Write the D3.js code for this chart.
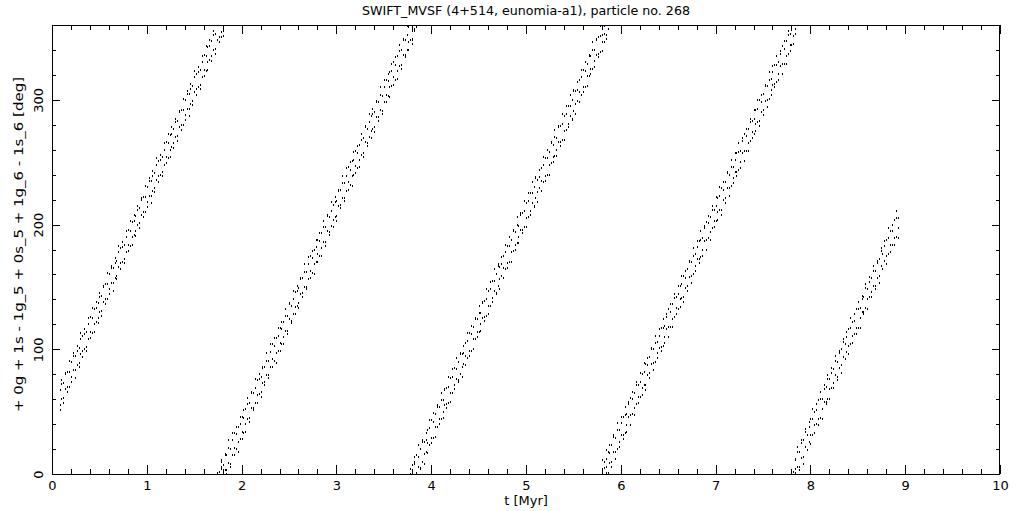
<!DOCTYPE html>
<html><head><meta charset="utf-8">
<script src="https://cdn.jsdelivr.net/npm/d3@7"></script>
<style>
body{margin:0;background:#fff}
svg{display:block}
text{font-family:"DejaVu Sans",sans-serif;fill:#000}
</style>
</head><body><svg id="c" width="1021" height="511"></svg>
<script>
// ---------- text ----------
const titleText = "SWIFT_MVSF (4+514, eunomia-a1), particle no. 268";
const xLabelText = "t [Myr]";
const yLabelText = "+ 0g + 1s - 1g_5 + 0s_5 + 1g_6 - 1s_6 [deg]";
// ---------- ticks ----------
const xMajorTicks = [0,1,2,3,4,5,6,7,8,9,10];
const yMajorTicks = [0,100,200,300];
const xMinorStep = 0.2;
const yMinorStep = 20;
const sampleStep = 0.02;                          // Myr between samples
const bandStart = [0.08, 1.78, 3.80, 5.80, 7.84]; // time of first sample of each circulation band
const band1Lo = [55,60,61,68,70,70,78,83,83,87,89,96,99,100,102,108,114,113,120,122,125,130,131,138,140,140,148,153,153,157,159,166,169,170,172,178,184,183,190,192,195,200,201,208,210,210,218,223,223,227,229,236,239,240,242,248,254,253,260,262,265,270,271,278,280,280,288,293,293,297,299,306,309,310,312,318,324,323,330,332,335,340,341,348,350,350];
const band1Hi = [67,72,73,80,82,82,90,95,95,99,101,108,111,112,114,120,126,125,132,133,137,142,143,150,152,152,160,165,165,169,171,178,181,182,184,190,196,195,202,203,207,212,213,220,222,222,230,235,235,239,241,248,251,252,254,260,266,265,272,273,277,282,283,290,292,292,300,305,305,309,311,318,321,322,324,330,336,335,342,343,347,352,353,0,2,4];
const band1Out = [51,75,57,81,66,91,74,97,77,103,86,113,94,116,99,125,109,133,114,138,121,145,127,151,136,161,144,167,147,173,156,183,164,186,169,195,179,203,184,208,191,215,197,221,206,231,214,237,217,243,226,253,234,256,239,265,249,273,254,278,261,285,267,291,276,301,284,307,287,313,296,323,304,326,309,335,319,343,324,348,331,355,337,1,346,11];
const band2Lo = [354,355,3,3,9,8,15,21,20,26,28,34,33,40,44,45,53,53,57,63,64,66,73,74,79,79,86,92,91,97,99,105,104,110,115,115,124,123,128,134,135,137,144,145,150,150,156,163,161,168,170,176,175,181,186,186,195,194,199,204,206,207,215,216,221,221,227,234,232,239,240,247,245,252,256,257,266,265,270,275,277,278,286,286,292,291,298,304,303,310,311,318,316,323,327,328,336,336,340,346,348,349,357];
const band2Hi = [6,7,15,15,21,20,27,33,32,38,40,46,45,52,56,57,65,65,69,75,76,78,85,86,91,91,98,104,103,109,111,117,116,122,127,127,136,135,140,146,147,149,156,157,162,162,168,175,173,180,182,188,187,193,198,198,207,206,211,216,218,219,227,228,233,233,239,246,244,251,252,259,257,264,268,269,278,277,282,287,289,290,298,298,304,303,310,316,315,322,323,330,328,335,339,340,348,348,352,358,0,1,9];
const band2Out = [10,351,16,0,27,6,33,15,38,18,46,28,51,34,61,42,66,51,76,57,80,62,86,71,97,77,104,86,109,89,117,99,122,104,132,112,137,121,147,128,151,133,157,142,168,148,174,157,179,160,188,170,193,175,203,183,208,192,218,198,222,203,228,213,239,219,245,228,250,231,258,241,263,246,273,254,279,263,289,269,293,274,299,283,310,289,316,298,321,302,329,312,334,317,344,325,349,334,359,340,4,345,10];
const band3Lo = [355,355,1,6,5,10,16,18,25,23,29,29,38,38,44,44,50,55,56,57,65,65,71,76,75,80,86,88,95,93,99,99,108,108,114,114,120,125,126,127,135,135,141,147,145,151,156,159,165,164,169,170,178,179,184,185,190,196,196,198,205,206,211,217,215,221,226,229,235,234,239,240,248,249,254,255,260,266,266,268,275,276,281,287,285,291,297,299,306,304,310,310,319,319,325,325,331,336,337,338,346,346,352];
const band3Hi = [7,8,15,14,20,26,26,27,35,37,43,42,48,54,54,59,59,67,69,70,77,78,85,84,90,96,96,97,105,107,113,112,118,124,124,129,129,137,139,140,147,148,155,155,160,167,166,168,175,178,183,183,188,195,194,200,199,208,209,211,217,219,225,225,230,237,236,238,245,248,253,253,258,265,264,270,269,278,279,281,287,289,295,295,300,307,307,308,316,318,324,323,329,335,335,340,340,348,350,351,358,359,6];
const band3Out = [348,14,358,23,4,27,8,33,17,43,25,49,30,55,40,65,45,68,53,78,58,84,68,93,74,97,78,103,87,113,95,119,100,125,110,135,115,138,123,148,128,154,138,164,144,168,148,174,157,184,165,190,170,196,180,206,185,209,193,219,198,225,208,234,214,238,218,244,227,254,235,260,240,266,250,276,255,279,263,289,268,295,278,304,284,308,289,314,298,324,306,330,311,336,321,346,326,349,334,359,339,5,349];
const band4Lo = [352,359,1,1,9,10,18,18,20,26,31,31,33,39,46,47,48,53,56,62,62,69,71,71,79,81,88,89,90,97,101,102,103,110,116,118,118,124,126,133,132,140,141,142,149,151,158,159,160,167,172,172,174,180,187,188,189,194,197,203,203,210,212,212,220,221,229,229,231,237,242,242,244,250,257,259,259,265,267,274,273,281,282,283,290,292,299,300,301,308,312,313,314,321,327,329,329,335,337,344,344,351,353];
const band4Hi = [4,10,12,18,17,23,30,29,35,35,41,46,47,48,56,61,60,65,71,71,74,80,82,88,87,94,100,100,105,106,111,117,117,119,126,132,130,136,141,142,144,151,152,159,157,164,170,170,175,176,182,187,188,189,197,202,201,206,212,212,215,221,223,229,228,234,241,240,246,246,252,257,258,259,267,273,271,277,282,283,285,292,293,300,298,305,311,311,316,317,322,328,328,330,337,343,341,347,352,353,356,2,4];
const band4Out = [11,353,19,357,23,6,31,12,41,22,46,28,54,34,58,39,66,47,74,57,81,63,89,67,93,77,101,83,111,93,116,99,124,105,128,110,136,118,144,128,151,134,159,138,163,147,171,153,181,163,187,169,195,175,199,180,207,188,215,198,222,204,230,208,234,217,242,223,252,233,257,239,265,245,269,251,277,259,285,269,292,275,300,279,304,288,312,294,322,304,327,310,335,316,339,321,347,329,355,339,3,345,11];
const band5Lo = [1,6,6,13,14,22,19,26,31,31,39,40,44,45,52,58,58,60,68,69,73,79,78,85,87,94,92,98,103,104,111,112,117,117,125,130,130,133,140,142,146,151,151,157,159,167,164,171,175,176,184,184,189,190,197];
const band5Hi = [12,18,18,25,27,34,31,38,44,44,50,51,59,60,60,68,70,76,76,81,84,91,90,97,100,106,104,110,116,117,122,123,132,132,133,140,142,149,148,154,157,163,163,169,172,179,176,183,188,189,195,195,204,205,205];
const band5Out = [357,22,3,27,8,36,19,42,24,52,33,56,39,66,44,71,56,79,60,85,69,95,75,99,81,108,92,114,96,125,105,128,112,138,117,143,128,152,132,158,142,167,148,171,153,181,164,187,168,197,178,200,184,211,189];

const bands = [
  [band1Lo,band1Hi,band1Out],
  [band2Lo,band2Hi,band2Out],
  [band3Lo,band3Hi,band3Out],
  [band4Lo,band4Hi,band4Out],
  [band5Lo,band5Hi,band5Out]
];

// ---------- layout ----------
const L = 52, R = 1000, T = 25, B = 474;
const svg = d3.select("#c");
const x = d3.scaleLinear().domain([0,10]).range([L,R]);
const y = d3.scaleLinear().domain([0,360]).range([B,T]);

const pts = [];
bands.forEach((set,b) => {
  set.forEach(arr => arr.forEach((v,i) => pts.push({t: bandStart[b] + i*sampleStep, a: v})));
});

svg.append("g").attr("shape-rendering","crispEdges")
  .selectAll("rect").data(pts).join("rect")
  .attr("x", d => Math.round(x(d.t)))
  .attr("y", d => Math.round(y(d.a)) - 1)
  .attr("width", 1).attr("height", 2).attr("fill", "#000");

// ---------- axes ----------
const xMinor = d3.range(0, 10 + 1e-9, xMinorStep).filter(v => Math.abs(v - Math.round(v)) > 1e-6);
const yMinor = d3.range(0, 360 + 1e-9, yMinorStep).filter(v => v % 100 !== 0);

function styleAxis(g){
  g.select(".domain").remove();
  g.selectAll("line").attr("stroke","#000").attr("shape-rendering","crispEdges");
  g.selectAll("text").attr("font-size", 13).attr("fill","#000").attr("font-family","DejaVu Sans, sans-serif");
}
svg.append("g").attr("transform",`translate(0,${B})`)
  .call(d3.axisBottom(x).tickValues(xMajorTicks).tickSizeInner(-9).tickSizeOuter(0).tickPadding(7).tickFormat(d3.format("d")))
  .call(styleAxis);
svg.append("g").attr("transform",`translate(0,${B})`)
  .call(d3.axisBottom(x).tickValues(xMinor).tickSizeInner(-5).tickSizeOuter(0).tickFormat(""))
  .call(styleAxis);
svg.append("g").attr("transform",`translate(0,${T})`)
  .call(d3.axisTop(x).tickValues(xMajorTicks).tickSizeInner(-9).tickSizeOuter(0).tickFormat(""))
  .call(styleAxis);
svg.append("g").attr("transform",`translate(0,${T})`)
  .call(d3.axisTop(x).tickValues(xMinor).tickSizeInner(-5).tickSizeOuter(0).tickFormat(""))
  .call(styleAxis);

const yl = svg.append("g").attr("transform",`translate(${L},0)`)
  .call(d3.axisLeft(y).tickValues(yMajorTicks).tickSizeInner(-8).tickSizeOuter(0).tickFormat(d3.format("d")))
  .call(styleAxis);
yl.selectAll("text").attr("x",0).attr("dy",0).attr("text-anchor","middle")
  .attr("transform","translate(-9,0) rotate(-90)");
svg.append("g").attr("transform",`translate(${L},0)`)
  .call(d3.axisLeft(y).tickValues(yMinor).tickSizeInner(-4).tickSizeOuter(0).tickFormat(""))
  .call(styleAxis);
svg.append("g").attr("transform",`translate(${R},0)`)
  .call(d3.axisRight(y).tickValues(yMajorTicks).tickSizeInner(-8).tickSizeOuter(0).tickFormat(""))
  .call(styleAxis);
svg.append("g").attr("transform",`translate(${R},0)`)
  .call(d3.axisRight(y).tickValues(yMinor).tickSizeInner(-4).tickSizeOuter(0).tickFormat(""))
  .call(styleAxis);

// frame
svg.append("rect").attr("x",L+0.5).attr("y",T+0.5).attr("width",R-L-1).attr("height",B-T)
  .attr("fill","none").attr("stroke","#000").attr("stroke-width",1).attr("shape-rendering","crispEdges");

// ---------- labels ----------
svg.append("text").attr("x",(L+R)/2).attr("y",15).attr("text-anchor","middle")
  .attr("font-size",12).attr("textLength",328).attr("lengthAdjust","spacingAndGlyphs").text(titleText);
svg.append("text").attr("x",(L+R)/2).attr("y",505).attr("text-anchor","middle")
  .attr("font-size",13).text(xLabelText);
svg.append("text").attr("transform",`translate(23,${(T+B)/2 - 5}) rotate(-90)`).attr("text-anchor","middle")
  .attr("font-size",13).attr("textLength",335).attr("lengthAdjust","spacingAndGlyphs").text(yLabelText);
</script>
</body></html>
